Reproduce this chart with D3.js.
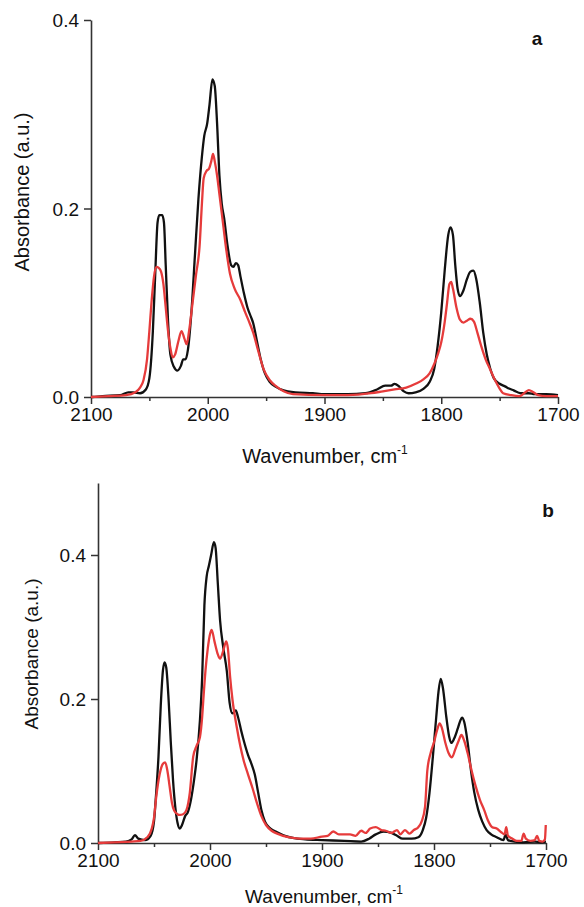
<!DOCTYPE html>
<html>
<head>
<meta charset="utf-8">
<script src="https://cdn.jsdelivr.net/npm/d3@7"></script>
<style>
  body { margin: 0; background: #fff; }
  svg { display: block; font-family: "Liberation Sans", Arial, sans-serif; }
  .tick text { font-size: 19px; fill: #111; }
</style>
</head>
<body>
<div id="chart"></div>
<script>
// Spectra: [wavenumber, absorbance]
const panelABlack = [
  [2100,0.000],[2090,0.001],[2075,0.002],[2068,0.005],[2064,0.005],[2058,0.004],[2053,0.008],
  [2050,0.02],[2047,0.07],[2045,0.13],[2043,0.185],[2041.5,0.193],[2039,0.193],[2037.5,0.185],
  [2036,0.14],[2034,0.08],[2032,0.045],[2029,0.032],[2026,0.028],[2023,0.033],[2021,0.04],
  [2019,0.04],[2017,0.05],[2014,0.09],[2011,0.15],[2008,0.21],[2005,0.255],[2003,0.277],
  [2000.5,0.29],[1998.5,0.31],[1996,0.337],[1994,0.33],[1992,0.29],[1990,0.235],[1988,0.205],
  [1986,0.19],[1983,0.16],[1980,0.14],[1978,0.138],[1976,0.142],[1974,0.14],[1972,0.128],
  [1969,0.11],[1966,0.095],[1963,0.085],[1961,0.078],[1958,0.06],[1955,0.042],[1951,0.025],
  [1947,0.016],[1942,0.011],[1935,0.007],[1925,0.005],[1910,0.004],[1900,0.003],[1880,0.003],
  [1865,0.004],[1855,0.008],[1848,0.012],[1843,0.012],[1840,0.014],[1836,0.011],[1832,0.006],
  [1828,0.004],[1822,0.005],[1815,0.009],[1810,0.016],[1806,0.03],[1803,0.055],[1800,0.09],
  [1797,0.135],[1794,0.172],[1792,0.18],[1790,0.172],[1788,0.14],[1786,0.115],[1784,0.107],
  [1781,0.113],[1778,0.125],[1775,0.133],[1772.5,0.134],[1770,0.125],[1767,0.1],[1764,0.068],
  [1761,0.045],[1758,0.03],[1755,0.02],[1750,0.014],[1745,0.011],[1742,0.009],[1738,0.007],
  [1732,0.004],[1725,0.004],[1720,0.003],[1710,0.003],[1700,0.002]
];

const panelARed = [
  [2100,0.000],[2085,0.001],[2070,0.002],[2062,0.005],[2058,0.01],[2055,0.018],[2052,0.04],
  [2050,0.07],[2048,0.103],[2046,0.128],[2044,0.138],[2042,0.137],[2040,0.133],[2038,0.12],
  [2036,0.095],[2034,0.07],[2032,0.052],[2030,0.042],[2028,0.045],[2025,0.06],[2022.5,0.07],
  [2020,0.062],[2018,0.056],[2016,0.07],[2013,0.1],[2010,0.13],[2007,0.16],[2005,0.205],
  [2003.5,0.232],[2001,0.24],[1999,0.242],[1997,0.25],[1995.5,0.258],[1994,0.25],[1992,0.235],
  [1990,0.215],[1987,0.185],[1984,0.155],[1981,0.131],[1977,0.115],[1972,0.103],[1968,0.09],
  [1964,0.078],[1961,0.068],[1957,0.05],[1952,0.029],[1947,0.018],[1941,0.011],[1935,0.006],
  [1927,0.003],[1900,0.002],[1880,0.002],[1860,0.004],[1850,0.006],[1840,0.008],[1830,0.01],
  [1822,0.014],[1815,0.019],[1810,0.025],[1806,0.035],[1803,0.045],[1800,0.058],[1797,0.08],
  [1795,0.1],[1793,0.12],[1791.5,0.122],[1790,0.115],[1787,0.095],[1784,0.082],[1781,0.079],
  [1778,0.081],[1775,0.083],[1772,0.08],[1769,0.068],[1766,0.055],[1762,0.04],[1758,0.029],
  [1754,0.018],[1750,0.009],[1747,0.004],[1740,0.002],[1733,0.001],[1728,0.005],[1725,0.0074],
  [1721,0.005],[1717,0.002],[1710,0.001],[1700,0.001]
];

const panelBBlack = [
  [2100,0.000],[2085,0.001],[2075,0.002],[2070,0.005],[2067,0.011],[2064,0.006],[2058,0.004],
  [2053,0.01],[2050,0.03],[2048.5,0.06],[2046,0.12],[2044,0.19],[2042,0.24],[2040.5,0.251],
  [2039,0.243],[2037,0.2],[2035,0.14],[2033,0.087],[2031,0.05],[2029,0.028],[2027,0.02],
  [2025,0.025],[2022,0.038],[2020,0.042],[2017,0.06],[2014,0.09],[2012,0.115],[2009,0.17],
  [2007,0.23],[2005,0.33],[2003,0.37],[2001,0.385],[1999,0.4],[1996.5,0.418],[1995,0.41],
  [1993,0.36],[1991,0.309],[1988,0.27],[1985,0.239],[1982.5,0.195],[1980,0.18],[1977,0.184],
  [1975,0.175],[1972,0.155],[1970,0.143],[1966,0.122],[1963,0.11],[1960,0.095],[1957,0.07],
  [1954,0.045],[1951,0.03],[1946,0.02],[1940,0.015],[1933,0.01],[1926,0.007],[1915,0.005],
  [1900,0.004],[1880,0.003],[1865,0.002],[1858,0.006],[1852,0.012],[1845,0.016],[1838,0.014],
  [1833,0.01],[1828,0.006],[1820,0.006],[1814,0.008],[1810,0.018],[1807,0.035],[1804,0.07],
  [1801,0.12],[1798,0.175],[1796,0.21],[1794,0.228],[1792,0.215],[1789,0.175],[1786.5,0.148],
  [1784.5,0.139],[1782,0.145],[1779,0.158],[1776.5,0.17],[1775,0.174],[1773,0.168],[1770,0.14],
  [1767,0.101],[1764,0.07],[1760.5,0.046],[1757,0.03],[1753,0.018],[1749,0.012],[1744,0.008],
  [1738,0.004],[1736,0.012],[1734,0.004],[1728,0.002],[1720,0.001],[1710,0.002],[1705,0.001],
  [1700,0.002]
];

const panelBRed = [
  [2100,0.000],[2085,0.001],[2070,0.002],[2062,0.003],[2056,0.008],[2052,0.02],[2050,0.035],
  [2048,0.064],[2045,0.095],[2042,0.11],[2040,0.112],[2038,0.1],[2036,0.078],[2034,0.056],
  [2032,0.045],[2029,0.04],[2027,0.039],[2024,0.04],[2021,0.046],[2018,0.07],[2015,0.12],
  [2012,0.135],[2009,0.147],[2007,0.175],[2006,0.198],[2004,0.24],[2002,0.27],[2000,0.29],
  [1998.5,0.296],[1996,0.28],[1993,0.262],[1991,0.256],[1988,0.268],[1985.5,0.28],[1984,0.27],
  [1982,0.23],[1980,0.2],[1976,0.16],[1973,0.135],[1970,0.115],[1966,0.095],[1962,0.076],
  [1958,0.055],[1954,0.037],[1950,0.025],[1945,0.017],[1940,0.013],[1930,0.008],[1920,0.006],
  [1910,0.006],[1900,0.009],[1895,0.01],[1890,0.016],[1885,0.012],[1875,0.012],[1870,0.01],
  [1865,0.017],[1861,0.014],[1857,0.02],[1852,0.022],[1847,0.018],[1843,0.017],[1838,0.014],
  [1833,0.018],[1830,0.012],[1826,0.018],[1822,0.013],[1818,0.018],[1814,0.022],[1811,0.03],
  [1808,0.05],[1806,0.1],[1803,0.125],[1800,0.14],[1797,0.158],[1795,0.166],[1793,0.16],
  [1790,0.14],[1787,0.125],[1784,0.119],[1781,0.13],[1778,0.142],[1775.5,0.15],[1773,0.142],
  [1770,0.125],[1766.5,0.101],[1763,0.08],[1759,0.06],[1755,0.045],[1752,0.032],[1748,0.022],
  [1744,0.02],[1740,0.015],[1737,0.012],[1735.5,0.022],[1734,0.01],[1730,0.006],[1726,0.003],
  [1722,0.003],[1720,0.013],[1718,0.006],[1714,0.003],[1710,0.004],[1708,0.01],[1706,0.003],
  [1703,0.002],[1701,0.005],[1700.2,0.025]
];

const xMajorTicks = [2100, 2000, 1900, 1800, 1700];
const xMinorTicks = [2050, 1950, 1850, 1750];
const yTicks = [0.0, 0.2, 0.4];

const width = 584, height = 907;

const svg = d3.select('#chart')
    .append('svg')
    .attr('width', width)
    .attr('height', height);

svg.append('rect').attr('width', width).attr('height', height).attr('fill', '#fff');

// one panel = one pair of spectra
function drawPanel(p) {
    const x = d3.scaleLinear().domain([2100, 1700]).range([p.left, p.right]);
    const y = d3.scaleLinear().domain([0, p.yMax]).range([p.bottom, p.top]);

    const g = svg.append('g');

    // x axis: major + minor ticks
    g.append('g')
        .attr('transform', `translate(0,${p.bottom})`)
        .call(d3.axisBottom(x).tickValues(xMinorTicks).tickSize(4).tickFormat(''))
        .call(a => a.select('.domain').remove())
        .call(a => a.selectAll('line').attr('stroke', '#333').attr('stroke-width', 1.5));

    g.append('g')
        .attr('transform', `translate(0,${p.bottom})`)
        .call(d3.axisBottom(x).tickValues(xMajorTicks).tickSize(7).tickSizeOuter(0)
            .tickPadding(4).tickFormat(d3.format('d')))
        .call(a => a.select('.domain').attr('stroke', '#333').attr('stroke-width', 1.6))
        .call(a => a.selectAll('line').attr('stroke', '#333').attr('stroke-width', 1.5));

    // y axis
    g.append('g')
        .attr('transform', `translate(${p.left},0)`)
        .call(d3.axisLeft(y).tickValues(yTicks).tickSize(7).tickSizeOuter(0)
            .tickPadding(5).tickFormat(d3.format('.1f')))
        .call(a => a.select('.domain').attr('stroke', '#333').attr('stroke-width', 1.6))
        .call(a => a.selectAll('line').attr('stroke', '#333').attr('stroke-width', 1.5))
        .call(a => a.selectAll('text').attr('dy', '0.36em'));

    const line = d3.line()
        .x(d => x(d[0]))
        .y(d => y(d[1]))
        .curve(d3.curveMonotoneX);

    g.append('path')
        .datum(p.black)
        .attr('fill', 'none')
        .attr('stroke', '#111')
        .attr('stroke-width', 2.3)
        .attr('stroke-linejoin', 'round')
        .attr('d', line);

    g.append('path')
        .datum(p.red)
        .attr('fill', 'none')
        .attr('stroke', '#e63b3b')
        .attr('stroke-width', 2.3)
        .attr('stroke-linejoin', 'round')
        .attr('d', line);

    // panel letter
    g.append('text')
        .attr('x', p.labelX)
        .attr('y', p.labelY)
        .attr('text-anchor', 'middle')
        .style('font-size', '19px')
        .style('font-weight', 'bold')
        .attr('fill', '#111')
        .text(p.label);

    // x-axis title
    const xt = g.append('text')
        .attr('x', p.xTitleX)
        .attr('y', p.xTitleY)
        .attr('text-anchor', 'middle')
        .style('font-size', p.titleSize + 'px')
        .attr('fill', '#111');
    xt.append('tspan').text('Wavenumber, cm');
    xt.append('tspan').attr('dy', -9).style('font-size', '12px').text('-1');

    // y-axis title
    g.append('text')
        .attr('transform', `translate(${p.yTitleX},${p.yTitleY}) rotate(-90)`)
        .attr('text-anchor', 'middle')
        .attr('dy', '0.35em')
        .style('font-size', p.titleSize + 'px')
        .attr('fill', '#111')
        .text('Absorbance (a.u.)');
}

drawPanel({
    black: panelABlack, red: panelARed, yMax: 0.4,
    left: 91, right: 558, top: 20, bottom: 397,
    label: 'a', labelX: 537, labelY: 45,
    xTitleX: 325, xTitleY: 463, yTitleX: 22, yTitleY: 192, titleSize: 20
});

drawPanel({
    black: panelBBlack, red: panelBRed, yMax: 0.5,
    left: 98, right: 546, top: 483, bottom: 843,
    label: 'b', labelX: 548, labelY: 517,
    xTitleX: 324, xTitleY: 903, yTitleX: 31, yTitleY: 654, titleSize: 19
});
</script>
</body>
</html>
